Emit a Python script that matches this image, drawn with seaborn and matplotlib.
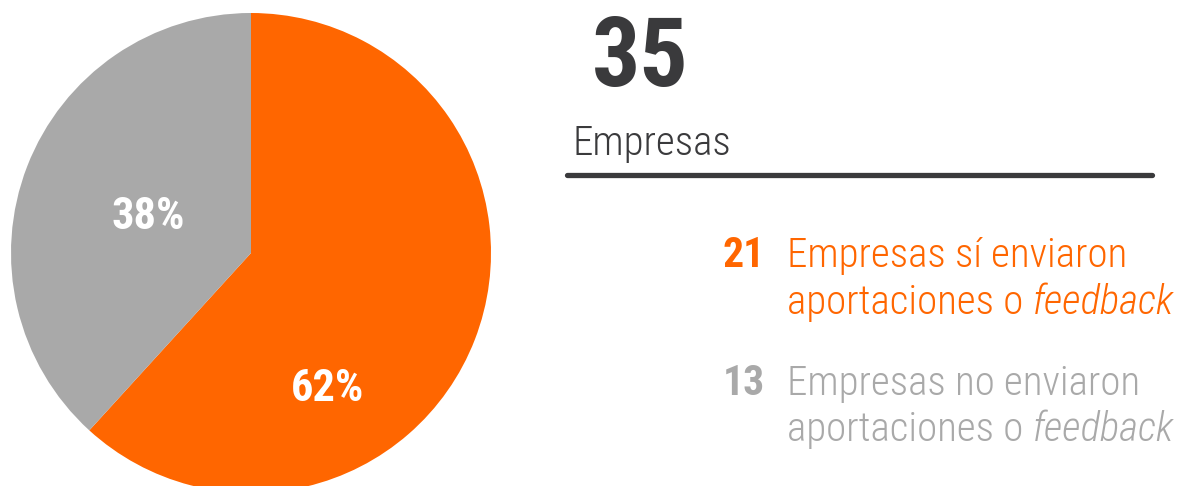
import matplotlib
matplotlib.use("Agg")
import matplotlib.pyplot as plt
from matplotlib import font_manager
import seaborn as sns

# Survey result: companies that did / did not send feedback
categories = ["Empresas sí enviaron", "Empresas no enviaron"]
counts = [21, 13]
total_companies = 35
colors = ["#FF6600", "#A9A9A9"]
dark = "#3A3A3C"

sns.set_theme(style="white")
names = {f.name for f in font_manager.fontManager.ttflist}
preferred = ["Roboto Condensed", "Archivo Narrow", "PT Sans Narrow",
             "Liberation Sans Narrow", "Sofia Sans Condensed",
             "Encode Sans Condensed", "Roboto"]
narrow = next(n for n in preferred if n in names)
plt.rcParams["font.family"] = [narrow, "DejaVu Sans"]

W, H = 1189, 486
fig = plt.figure(figsize=(W / 100, H / 100), dpi=100)
fig.patch.set_facecolor("white")

# Pie axes: centre (251, 253) px, radius 240 px
cx, cy, r = 251, 253, 240
ax = fig.add_axes([(cx - r) / W, (H - cy - r) / H, 2 * r / W, 2 * r / H])
ax.pie(counts, colors=colors, startangle=90, counterclock=False,
       radius=1.0, wedgeprops=dict(linewidth=0))
ax.set_xlim(-1, 1)
ax.set_ylim(-1, 1)
ax.set_aspect("equal")
ax.axis("off")

pcts = [round(100 * c / sum(counts)) for c in counts]
label_pos = [(0.32, -0.565), (-0.43, 0.15)]
for p, (x, y) in zip(pcts, label_pos):
    ax.text(x, y, f"{p}%", color="white", fontsize=32, fontweight="bold",
            ha="center", va="center")

# Right-hand summary panel
fig.text(592 / W, 1 - 86 / H, str(total_companies), color=dark, fontsize=69,
         fontweight="bold", ha="left", va="baseline")
fig.text(572 / W, 1 - 155 / H, "Empresas", color=dark, fontsize=29.5,
         fontweight="light", ha="left", va="baseline")
fig.add_artist(plt.Line2D([567 / W, 1152 / W], [1 - 175 / H, 1 - 175 / H],
                          color=dark, linewidth=3.8, transform=fig.transFigure))

rows = [(267, 314), (395, 441)]
for (b1, b2), n, cat, col in zip(rows, counts, categories, colors):
    fig.text(765 / W, 1 - b1 / H, str(n), color=col, fontsize=30,
             fontweight="bold", ha="right", va="baseline")
    fig.text(787 / W, 1 - b1 / H, cat, color=col, fontsize=29.5,
             fontweight="light", ha="left", va="baseline")
    t = fig.text(787 / W, 1 - b2 / H, "aportaciones o ", color=col, fontsize=29.5,
                 fontweight="light", ha="left", va="baseline")
    fig.canvas.draw()
    bb = t.get_window_extent()
    fig.text(bb.x1 / W, 1 - b2 / H, "feedback", color=col, fontsize=29.5,
             fontweight="light", style="italic", ha="left", va="baseline")

fig.savefig("out.png", dpi=100, facecolor="white")
